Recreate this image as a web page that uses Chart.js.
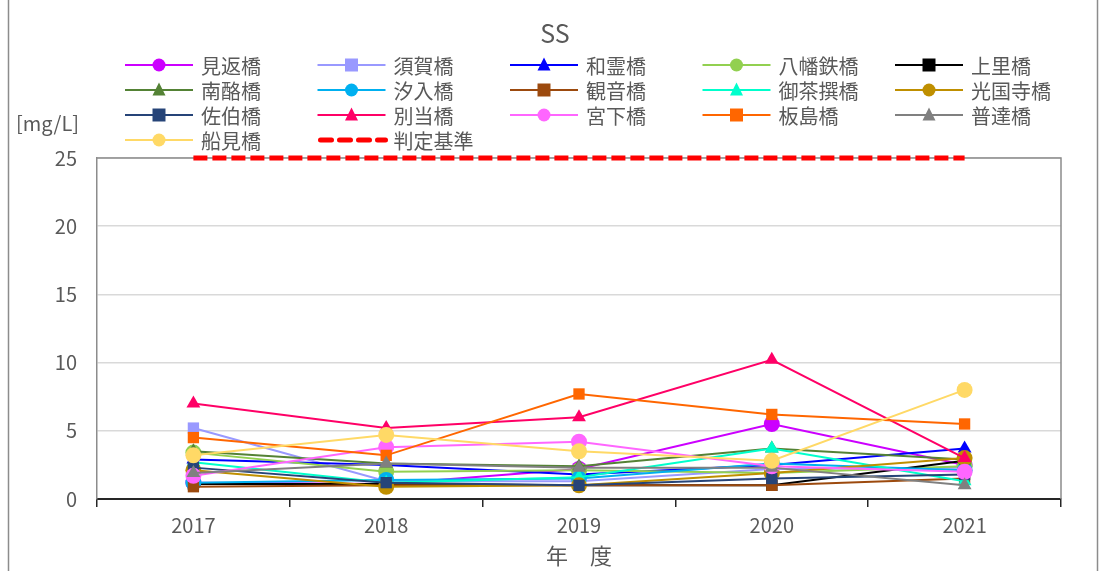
<!DOCTYPE html>
<html>
<head>
<meta charset="utf-8">
<script src="https://cdn.jsdelivr.net/npm/chart.js@4"></script>
<style>
  html, body { margin: 0; padding: 0; background: #fff; }
  #wrap { width: 1100px; height: 571px; position: relative; }
</style>
</head>
<body>
<div id="wrap"><canvas id="ssChart" width="1100" height="571"></canvas></div>
<script>
// 年度
const years = ["2017", "2018", "2019", "2020", "2021"];

// 地点名
const stations = ["見返橋", "須賀橋", "和霊橋", "八幡鉄橋", "上里橋",
                  "南酪橋", "汐入橋", "観音橋", "御茶撰橋", "光国寺橋",
                  "佐伯橋", "別当橋", "宮下橋", "板島橋", "普達橋",
                  "船見橋"];

// SS 測定値 [mg/L]  (地点ごと, 2017-2021)
const mikaeri   = [1.2, 1.1, 2.2, 5.5, 2.5];
const suka      = [5.2, 1.3, 1.3, 2.2, 2.3];
const warei     = [2.9, 2.5, 1.8, 2.5, 3.7];
const yawata    = [3.4, 2.0, 2.1, 1.9, 2.4];
const kamisato  = [1.1, 1.1, 1.0, 1.0, 2.8];
const nanraku   = [3.5, 2.6, 2.4, 3.7, 2.9];
const shioiri   = [1.2, 1.4, 1.5, 2.6, 2.1];
const kannon    = [0.9, 1.0, 1.0, 1.0, 1.5];
const ochasen   = [2.7, 1.2, 1.6, 3.7, 1.3];
const kokokuji  = [2.1, 0.9, 1.0, 1.9, 3.0];
const saiki     = [2.3, 1.2, 1.0, 1.5, 1.8];
const betto     = [7.0, 5.2, 6.0, 10.2, 3.0];
const miyashita = [1.7, 3.8, 4.2, 2.4, 2.0];
const itajima   = [4.5, 3.2, 7.7, 6.2, 5.5];
const futatsu   = [1.9, 2.6, 2.3, 2.3, 1.0];
const funami    = [3.2, 4.7, 3.5, 2.8, 8.0];

const seriesValues = [mikaeri, suka, warei, yawata, kamisato,
                      nanraku, shioiri, kannon, ochasen, kokokuji,
                      saiki, betto, miyashita, itajima, futatsu, funami];

// 判定基準
const limitName = "判定基準";
const limitValue = [25, 25, 25, 25, 25];

const colors = ["#CC00FF", "#9999FF", "#0000FF", "#92D050", "#000000",
                "#548235", "#00B0F0", "#9C4A0E", "#00FFCC", "#BF8F00",
                "#264478", "#FF0066", "#FF66FF", "#FF6600", "#808080",
                "#FFD966"];
const shapes = ["circle", "rect", "triangle", "circle", "rect",
                "triangle", "circle", "rect", "triangle", "circle",
                "rect", "triangle", "circle", "rect", "triangle",
                "circle"];

const FONT = "'Noto Sans CJK JP', 'Noto Sans', sans-serif";
const TEXT = "#595959";

const datasets = stations.map((name, i) => ({
  label: name,
  data: seriesValues[i],
  borderColor: colors[i],
  backgroundColor: colors[i],
  pointStyle: shapes[i],
  pointRadius: 8,
  pointBorderWidth: 0,
  borderWidth: 2,
  tension: 0,
  order: -i,
}));
datasets.push({
  label: limitName,
  data: limitValue,
  borderColor: "#FF0000",
  borderWidth: 5,
  borderDash: [14, 5],
  pointRadius: 0,
  clip: false,
  order: -100,
});

// 凡例・タイトル・枠 (Excel 風に手描き)
const decorPlugin = {
  id: "decor",
  beforeDraw(chart) {
    const ctx = chart.ctx;
    ctx.save();
    ctx.fillStyle = "#fff";
    ctx.fillRect(0, 0, chart.width, chart.height);
    ctx.strokeStyle = "#8c8c8c";
    ctx.lineWidth = 1.5;
    ctx.strokeRect(8.5, -2, 1089, chart.height + 4);
    ctx.restore();
  },
  beforeDatasetsDraw(chart) {
    const ctx = chart.ctx;
    const a = chart.chartArea;
    ctx.save();
    ctx.strokeStyle = "#8c8c8c";
    ctx.lineWidth = 1.5;
    ctx.beginPath();
    ctx.moveTo(a.left, a.top);
    ctx.lineTo(a.right, a.top);
    ctx.lineTo(a.right, a.bottom);
    ctx.stroke();
    ctx.restore();
  },
  afterDraw(chart) {
    const ctx = chart.ctx;
    ctx.save();
    // title
    ctx.fillStyle = TEXT;
    ctx.font = "25px " + FONT;
    ctx.textAlign = "center";
    ctx.textBaseline = "middle";
    ctx.fillText("SS", 555, 33);
    // unit
    ctx.font = "20px " + FONT;
    ctx.textAlign = "left";
    ctx.fillText("[mg/L]", 16, 123);

    // legend
    const items = chart.data.datasets;
    ctx.font = "20px " + FONT;
    items.forEach((ds, i) => {
      const col = i % 5, row = Math.floor(i / 5);
      const x0 = 125 + col * 192.5;
      const y0 = 65 + row * 25;
      ctx.save();
      ctx.strokeStyle = ds.borderColor;
      if (ds.borderDash) {
        ctx.lineWidth = 5;
        ctx.lineCap = "round";
        ctx.setLineDash([11, 8]);
        ctx.beginPath();
        ctx.moveTo(x0 + 3, y0);
        ctx.lineTo(x0 + 68, y0);
        ctx.stroke();
      } else {
        ctx.lineWidth = 2;
        ctx.beginPath();
        ctx.moveTo(x0, y0);
        ctx.lineTo(x0 + 68, y0);
        ctx.stroke();
        ctx.fillStyle = ds.backgroundColor;
        ctx.beginPath();
        const r = 6.5, cx = x0 + 34;
        if (ds.pointStyle === "circle") {
          ctx.arc(cx, y0, r, 0, Math.PI * 2);
        } else if (ds.pointStyle === "rect") {
          ctx.rect(cx - r, y0 - r, 2 * r, 2 * r);
        } else {
          ctx.moveTo(cx, y0 - r - 1);
          ctx.lineTo(cx + r, y0 + r - 1);
          ctx.lineTo(cx - r, y0 + r - 1);
          ctx.closePath();
        }
        ctx.fill();
      }
      ctx.restore();
      ctx.fillStyle = TEXT;
      ctx.textAlign = "left";
      ctx.textBaseline = "middle";
      ctx.fillText(ds.label, x0 + 76, y0 + 1);
    });
    ctx.restore();
  }
};

new Chart(document.getElementById("ssChart"), {
  type: "line",
  data: { labels: years, datasets: datasets },
  plugins: [decorPlugin],
  options: {
    responsive: false,
    animation: false,
    devicePixelRatio: 1,
    layout: { padding: { top: 158, right: 39, left: 0, bottom: 0 } },
    plugins: {
      legend: { display: false },
      title: { display: false },
      tooltip: { enabled: false },
    },
    scales: {
      x: {
        offset: true,
        afterFit(scale) { scale.height = 72; },
        grid: {
          offset: true,
          drawOnChartArea: false,
          drawTicks: true,
          tickLength: 8,
          color: "#262626",
          lineWidth: 1.5,
        },
        border: { color: "#262626", width: 2 },
        ticks: {
          color: TEXT,
          padding: 6,
          font: { family: FONT, size: 20 },
        },
        title: {
          display: true,
          text: "年　度",
          color: TEXT,
          padding: { top: 0, bottom: 2 },
          font: { family: FONT, size: 22 },
        },
      },
      y: {
        min: 0,
        max: 25,
        afterFit(scale) { scale.width = 97; },
        ticks: {
          stepSize: 5,
          color: TEXT,
          padding: 20,
          font: { family: FONT, size: 20 },
        },
        grid: {
          color: "#d9d9d9",
          lineWidth: 1.5,
          drawTicks: false,
        },
        border: { color: "#8c8c8c", width: 1.5 },
      },
    },
  },
});
</script>
</body>
</html>
